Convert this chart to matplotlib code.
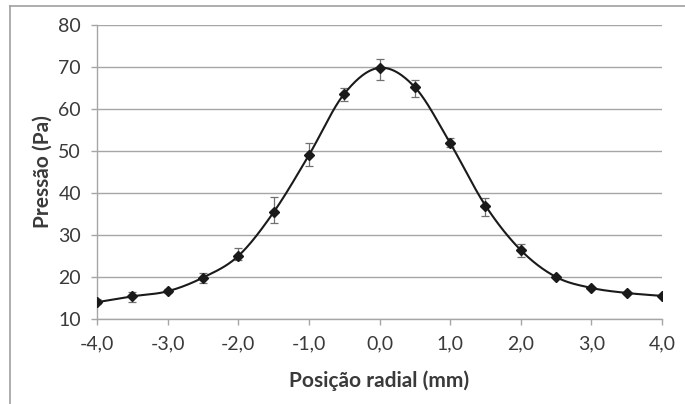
import numpy as np
import matplotlib
matplotlib.use("Agg")
import matplotlib.pyplot as plt
from matplotlib.lines import Line2D

plt.rcParams['font.family'] = ['Lato', 'DejaVu Sans']

## data
pos = [-4.0, -3.5, -3.0, -2.5, -2.0, -1.5, -1.0, -0.5, 0.0, 0.5, 1.0, 1.5, 2.0, 2.5, 3.0, 3.5, 4.0]
pressao = [14.0, 15.4, 16.6, 19.85, 25.0, 35.4, 49.0, 63.6, 69.8, 65.2, 51.9, 37.0, 26.4, 20.0, 17.4, 16.2, 15.5]
err_low = [0.5, 1.3, 0.5, 1.2, 1.0, 2.5, 2.6, 1.6, 2.9, 2.3, 1.0, 2.5, 1.6, 0.3, 0.3, 0.3, 0.3]
err_up = [0.8, 1.0, 0.5, 1.2, 2.0, 3.6, 3.0, 1.3, 2.2, 1.7, 1.1, 1.9, 1.5, 0.3, 0.3, 0.3, 0.3]
xticks = [-4, -3, -2, -1, 0, 1, 2, 3, 4]
yticks = [10, 20, 30, 40, 50, 60, 70, 80]

## excel-like smoothed line (catmull-rom as bezier segments)
def smooth(x, y, n=30):
    x = np.asarray(x, float)
    y = np.asarray(y, float)
    px = np.concatenate([[x[0]], x, [x[-1]]])
    py = np.concatenate([[y[0]], y, [y[-1]]])
    xs, ys = [], []
    t = np.linspace(0, 1, n)
    for i in range(1, len(px) - 2):
        p0x, p1x, p2x, p3x = px[i-1], px[i], px[i+1], px[i+2]
        p0y, p1y, p2y, p3y = py[i-1], py[i], py[i+1], py[i+2]
        c1x, c1y = p1x + (p2x - p0x) / 6, p1y + (p2y - p0y) / 6
        c2x, c2y = p2x - (p3x - p1x) / 6, p2y - (p3y - p1y) / 6
        bx = (1-t)**3*p1x + 3*(1-t)**2*t*c1x + 3*(1-t)*t**2*c2x + t**3*p2x
        by = (1-t)**3*p1y + 3*(1-t)**2*t*c1y + 3*(1-t)*t**2*c2y + t**3*p2y
        xs.extend(bx)
        ys.extend(by)
    return np.array(xs), np.array(ys)

fig = plt.figure(figsize=(6.85, 4.04), dpi=100)
ax = fig.add_axes([97/685, 85/404, 565/685, 294/404])

grid_col = '#a6a6a6'
txt_col = '#3a3a3a'
sx, sy = smooth(pos, pressao)
ax.plot(sx, sy, color='#1a1a1a', lw=1.5, zorder=3)
ax.errorbar(pos, pressao, yerr=[err_low, err_up], fmt='none', ecolor='#707070',
            elinewidth=0.9, capsize=3, capthick=0.9, zorder=2)
ax.plot(pos, pressao, linestyle='none', marker='D', markersize=5.5,
        color='#1a1a1a', zorder=4)

ax.set_xlim(-4, 4)
ax.set_ylim(10, 80)
ax.set_xticks(xticks)
ax.set_xticklabels([f"{v:.1f}".replace('.', ',') for v in xticks])
ax.set_yticks(yticks)
ax.yaxis.grid(True, color=grid_col, lw=1)
ax.set_axisbelow(True)
for s in ['top', 'right']:
    ax.spines[s].set_visible(False)
for s in ['left', 'bottom']:
    ax.spines[s].set_color(grid_col)
    ax.spines[s].set_linewidth(1)
ax.tick_params(axis='both', colors=grid_col, labelcolor=txt_col, labelsize=14,
               length=4.5, width=1, direction='out')
ax.tick_params(axis='y', pad=7)
ax.tick_params(axis='x', pad=7)

ax.set_xlabel('Posição radial (mm)', fontsize=15, fontweight='bold', color=txt_col, labelpad=13)
ax.set_ylabel('Pressão (Pa)', fontsize=15, fontweight='bold', color=txt_col, labelpad=4)

## frame of the chart area (only left and top visible)
fig.add_artist(Line2D([10/685, 10/685], [0, 1 - 6/404], color='#a0a0a0', lw=1.2))
fig.add_artist(Line2D([10/685, 1], [1 - 6/404, 1 - 6/404], color='#a0a0a0', lw=1.2))

fig.savefig('out.png', dpi=100)
